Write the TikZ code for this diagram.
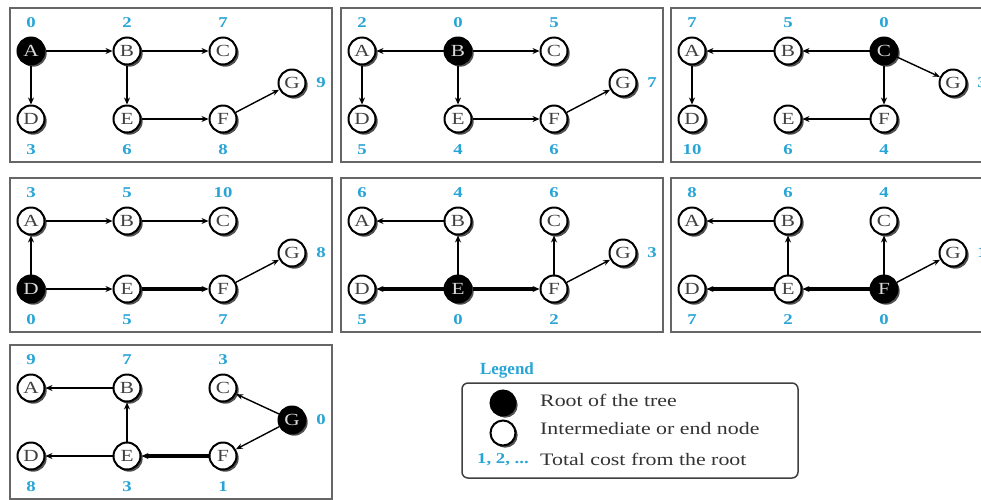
\documentclass[tikz,border=0pt]{standalone}
\usepackage{fontspec}
\setmainfont[FakeStretch=1.25]{Liberation Serif}
\newfontfamily\headfont{Liberation Serif}
\usetikzlibrary{shadows,arrows.meta}
\definecolor{costblue}{RGB}{40,165,215}
\tikzset{
  x=1pt,y=-1pt,
  panel/.style={draw=black!60,line width=1.4},
  vnode/.style={circle,draw=black,line width=2,fill=white,minimum size=27,inner sep=0,
    font=\fontsize{17}{17}\selectfont,text=black!75,
    drop shadow={shadow xshift=2.2pt,shadow yshift=-2.2pt,fill=black!80,opacity=.85}},
  rootnode/.style={fill=black,text=white!85!black},
  nA/.style={},nB/.style={},nC/.style={},nD/.style={},nE/.style={},nF/.style={},nG/.style={},
  cost/.style={text=costblue,font=\bfseries\fontsize{15}{15}\selectfont,inner sep=0},
  link/.style={line width=2.6,-{Stealth[length=7pt,width=6pt]}},
  heavy/.style={line width=3.3},
  thinlink/.style={line width=1.4,-{Stealth[length=7pt,width=5.5pt]}},
  legtext/.style={anchor=west,inner sep=0,font=\fontsize{17.5}{17.5}\selectfont,text=black!80},
}
\newcommand\panelnodes[1]{%
  \draw[panel] (0,0) rectangle (322,154);
  \node[vnode,nA] (#1A) at (21,43) {A};
  \node[vnode,nB] (#1B) at (117,43) {B};
  \node[vnode,nC] (#1C) at (213,43) {C};
  \node[vnode,nD] (#1D) at (21,111) {D};
  \node[vnode,nE] (#1E) at (117,111) {E};
  \node[vnode,nF] (#1F) at (213,111) {F};
  \node[vnode,nG] (#1G) at (282,75) {G};
}
\newcommand\panelcosts[8]{%
  \node[cost] (#1cA) at (21,15) {#2};
  \node[cost] (#1cB) at (117,15) {#3};
  \node[cost] (#1cC) at (213,15) {#4};
  \node[cost] (#1cD) at (21,142) {#5};
  \node[cost] (#1cE) at (117,142) {#6};
  \node[cost] (#1cF) at (213,142) {#7};
  \node[cost] (#1cG) at (311,75) {#8};
}
\begin{document}
\begin{tikzpicture}
\clip (0,0) rectangle (981,499);
\fill[white] (0,0) rectangle (981,499);

% Panel 1: root A
\begin{scope}[shift={(10,8)},nA/.style={rootnode}]
  \panelnodes{a}
  \panelcosts{a}{0}{2}{7}{3}{6}{8}{9}
  \draw[link] (aA) -- (aB);
  \draw[link] (aB) -- (aC);
  \draw[link] (aA) -- (aD);
  \draw[link] (aB) -- (aE);
  \draw[link] (aE) -- (aF);
  \draw[thinlink] (aF) -- (aG);
\end{scope}

% Panel 2: root B
\begin{scope}[shift={(341,8)},nB/.style={rootnode}]
  \panelnodes{b}
  \panelcosts{b}{2}{0}{5}{5}{4}{6}{7}
  \draw[link] (bB) -- (bA);
  \draw[link] (bB) -- (bC);
  \draw[link] (bA) -- (bD);
  \draw[link] (bB) -- (bE);
  \draw[link] (bE) -- (bF);
  \draw[thinlink] (bF) -- (bG);
\end{scope}

% Panel 3: root C
\begin{scope}[shift={(671,8)},nC/.style={rootnode}]
  \panelnodes{c}
  \panelcosts{c}{7}{5}{0}{10}{6}{4}{3}
  \draw[link] (cC) -- (cB);
  \draw[link] (cB) -- (cA);
  \draw[link] (cA) -- (cD);
  \draw[link] (cC) -- (cF);
  \draw[link] (cF) -- (cE);
  \draw[thinlink] (cC) -- (cG);
\end{scope}

% Panel 4: root D
\begin{scope}[shift={(10,178)},nD/.style={rootnode}]
  \panelnodes{d}
  \panelcosts{d}{3}{5}{10}{0}{5}{7}{8}
  \draw[link] (dD) -- (dA);
  \draw[link] (dA) -- (dB);
  \draw[link] (dB) -- (dC);
  \draw[link] (dD) -- (dE);
  \draw[link,heavy] (dE) -- (dF);
  \draw[thinlink] (dF) -- (dG);
\end{scope}

% Panel 5: root E
\begin{scope}[shift={(341,178)},nE/.style={rootnode}]
  \panelnodes{e}
  \panelcosts{e}{6}{4}{6}{5}{0}{2}{3}
  \draw[link] (eE) -- (eB);
  \draw[link] (eB) -- (eA);
  \draw[link,heavy] (eE) -- (eD);
  \draw[link,heavy] (eE) -- (eF);
  \draw[link] (eF) -- (eC);
  \draw[thinlink] (eF) -- (eG);
\end{scope}

% Panel 6: root F
\begin{scope}[shift={(671,178)},nF/.style={rootnode}]
  \panelnodes{f}
  \panelcosts{f}{8}{6}{4}{7}{2}{0}{1}
  \draw[link,heavy] (fF) -- (fE);
  \draw[link] (fE) -- (fB);
  \draw[link] (fB) -- (fA);
  \draw[link,heavy] (fE) -- (fD);
  \draw[link] (fF) -- (fC);
  \draw[thinlink] (fF) -- (fG);
\end{scope}

% Panel 7: root G
\begin{scope}[shift={(10,345)},nG/.style={rootnode}]
  \panelnodes{g}
  \panelcosts{g}{9}{7}{3}{8}{3}{1}{0}
  \draw[thinlink] (gG) -- (gC);
  \draw[thinlink] (gG) -- (gF);
  \draw[link,heavy] (gF) -- (gE);
  \draw[link] (gE) -- (gB);
  \draw[link] (gB) -- (gA);
  \draw[link] (gE) -- (gD);
\end{scope}

% Legend
\node[text=costblue,font=\headfont\bfseries\fontsize{17}{17}\selectfont,inner sep=0] (leghead) at (507,370) {Legend};
\draw[draw=black!75,line width=1.5,rounded corners=6] (462,383) rectangle (798,478);
\node[vnode,rootnode,minimum size=25] (legroot) at (503,403) {};
\node[vnode,minimum size=25] (legint) at (503,433) {};
\node[cost] (legcost) at (503,460) {1, 2, ...};
\node[legtext] (legt1) at (540,400) {Root of the tree};
\node[legtext] (legt2) at (540,429) {Intermediate or end node};
\node[legtext] (legt3) at (540,459) {Total cost from the root};
\end{tikzpicture}
\end{document}
